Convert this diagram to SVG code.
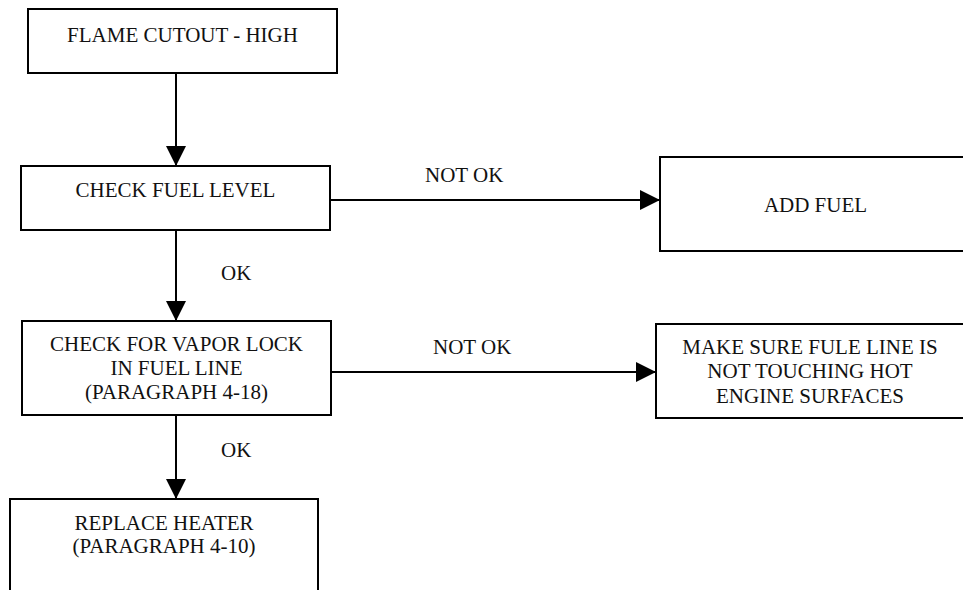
<svg xmlns="http://www.w3.org/2000/svg" width="963" height="590" viewBox="0 0 963 590">
<style>
.box{fill:#fff;stroke:#000;stroke-width:2}
.ln{fill:none;stroke:#000;stroke-width:2}
text{font-family:'Liberation Serif','Times New Roman',serif;font-size:21px;fill:#111}
.c{text-anchor:middle}
</style>
<defs>
<marker id="ah" markerUnits="userSpaceOnUse" markerWidth="20" markerHeight="20" viewBox="0 0 20 20" refX="20" refY="10" orient="auto">
<path d="M0,0 L20,10 L0,20 Z" fill="#000"/>
</marker>
</defs>
<rect width="963" height="590" fill="#fff"/>
<g id="connectors">
<line class="ln" x1="176" y1="73" x2="176" y2="166" marker-end="url(#ah)"/>
<line class="ln" x1="176" y1="230" x2="176" y2="321" marker-end="url(#ah)"/>
<line class="ln" x1="176" y1="415" x2="176" y2="499" marker-end="url(#ah)"/>
<line class="ln" x1="330" y1="200" x2="660" y2="200" marker-end="url(#ah)"/>
<line class="ln" x1="331" y1="372" x2="656" y2="372" marker-end="url(#ah)"/>
<text x="221" y="280">OK</text>
<text x="221" y="457">OK</text>
<text x="425" y="182">NOT OK</text>
<text x="433" y="354">NOT OK</text>
</g>
<g id="n1">
<rect class="box" x="28" y="9" width="309" height="64"/>
<text class="c" x="182.5" y="42">FLAME CUTOUT - HIGH</text>
</g>
<g id="n2">
<rect class="box" x="21" y="166" width="309" height="64"/>
<text class="c" x="175.5" y="197">CHECK FUEL LEVEL</text>
</g>
<g id="n3">
<rect class="box" x="660" y="157" width="320" height="94"/>
<text class="c" x="815.5" y="212">ADD FUEL</text>
</g>
<g id="n4">
<rect class="box" x="22" y="321" width="309" height="94"/>
<text class="c" x="176.5" y="351">CHECK FOR VAPOR LOCK</text>
<text class="c" x="176.5" y="375">IN FUEL LINE</text>
<text class="c" x="176.5" y="399">(PARAGRAPH 4-18)</text>
</g>
<g id="n5">
<rect class="box" x="656" y="324" width="320" height="94"/>
<text class="c" x="810" y="354">MAKE SURE FULE LINE IS</text>
<text class="c" x="810" y="378">NOT TOUCHING HOT</text>
<text class="c" x="810" y="403">ENGINE SURFACES</text>
</g>
<g id="n6">
<rect class="box" x="10" y="499" width="308" height="110"/>
<text class="c" x="164" y="530">REPLACE HEATER</text>
<text class="c" x="164" y="553">(PARAGRAPH 4-10)</text>
</g>
</svg>
